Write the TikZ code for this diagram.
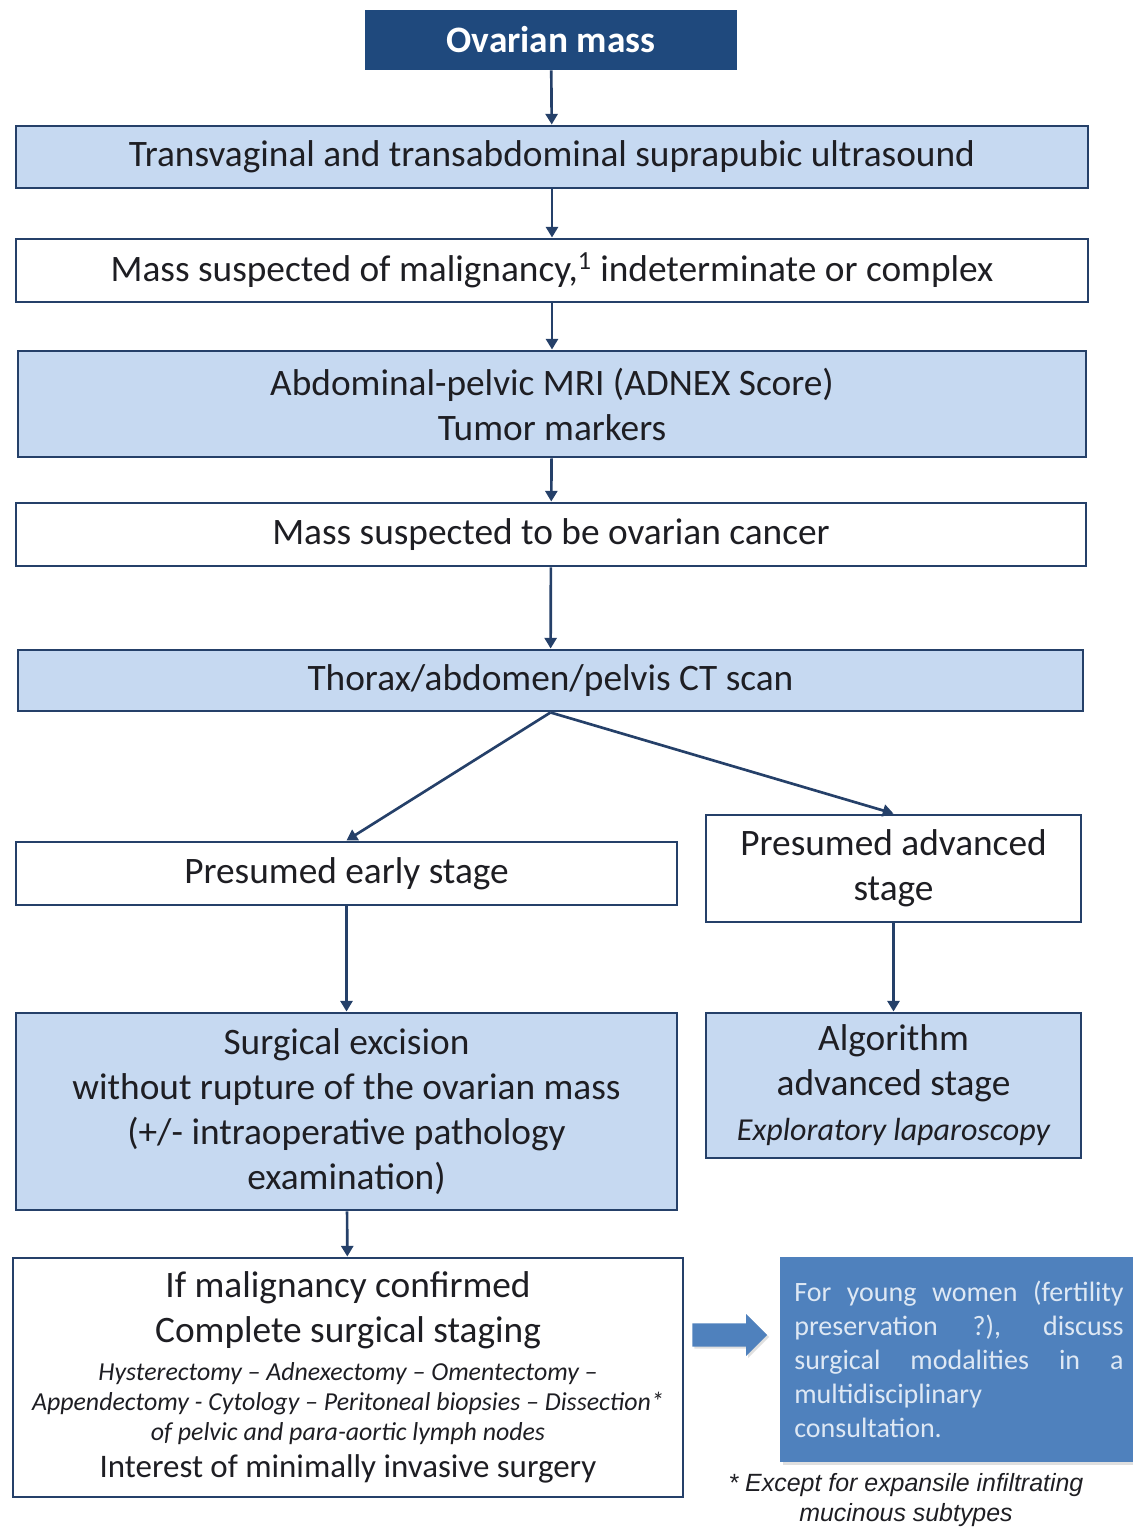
\documentclass[tikz,border=0pt]{standalone}
\usepackage{fontspec}
\setmainfont{Carlito}
\newfontfamily\notefont{Liberation Sans}
\usetikzlibrary{arrows.meta,shapes.arrows,shadows}

\definecolor{navy}{RGB}{37,64,105}
\definecolor{massblue}{RGB}{31,73,125}
\definecolor{paleblue}{RGB}{198,217,241}
\definecolor{midblue}{RGB}{79,129,189}
\definecolor{ink}{RGB}{30,30,35}
\definecolor{paletext}{RGB}{222,232,244}

\newcommand{\bigfont}{\fontsize{28}{33.75}\selectfont}
\newcommand{\smallfont}{\fontsize{19.4}{22.5}\selectfont}

\tikzset{
  box/.style={draw=navy, line width=2.2pt, fill=white, text=ink, align=flush center,
    inner sep=0pt, font=\bigfont},
  filled/.style={box, fill=paleblue},
  link/.style={draw=navy, line width=2pt, -{Triangle[length=8pt,width=9pt]}}
}

\begin{document}
\begin{tikzpicture}[x=0.75pt,y=-0.75pt]
      \useasboundingbox (0,0) rectangle (1132,1528);
      \node[fill=massblue, text=white, font=\bigfont\bfseries,
        minimum width=279pt, minimum height=45pt] (mass) at (551,40) {Ovarian mass};
      \node[filled, minimum width=804pt, minimum height=46.5pt] (echo) at (552,157)
        {Transvaginal and transabdominal suprapubic ultrasound};
      \node[box, minimum width=804pt, minimum height=47.25pt] (suspect) at (552,270.5)
        {Mass suspected of malignancy,\textsuperscript{1} indeterminate or complex};
      \node[filled, minimum width=801pt, minimum height=79.5pt] (mri) at (552,404)
        {Abdominal-pelvic MRI (ADNEX Score)\\ Tumor markers};
      \node[box, minimum width=802.5pt, minimum height=47.25pt] (cancer) at (551,534.5)
        {Mass suspected to be ovarian cancer};
      \node[filled, minimum width=798.75pt, minimum height=45.75pt] (ct) at (550.5,680.5)
        {Thorax/abdomen/pelvis CT scan};
      \node[box, minimum width=495.75pt, minimum height=47.25pt] (early) at (346.5,873.5)
        {Presumed early stage};
      \node[box, minimum width=281.25pt, minimum height=80.25pt] (adv) at (893.5,868.5)
        {Presumed advanced\\ stage};
      \node[filled, minimum width=495.75pt, minimum height=147.75pt] (excision) at (346.5,1111.5)
        {Surgical excision\\ without rupture of the ovarian mass\\ (+/- intraoperative pathology\\ examination)};
      \node[filled, minimum width=281.25pt, minimum height=108.75pt] (algo) at (893.5,1085.5)
        {Algorithm\\ advanced stage\\ {\fontsize{24}{30}\selectfont\itshape Exploratory laparoscopy}};
      \node[box, text width=480pt, minimum width=502.5pt, minimum height=179.25pt] (staging) at (348,1377.5)
        {{\bigfont If malignancy confirmed\\ Complete surgical staging\par}
         \vspace{6pt}
         {\smallfont\itshape Hysterectomy -- Adnexectomy -- Omentectomy --\\
          Appendectomy - Cytology -- Peritoneal biopsies -- Dissection*\\
          of pelvic and para-aortic lymph nodes\par}
         {\fontsize{24.7}{27.5}\selectfont Interest of minimally invasive surgery\par}};
      \node[single arrow, fill=midblue, inner xsep=0pt, inner ysep=8.5pt, minimum height=56pt,
        minimum width=31pt, single arrow head extend=7pt,
        drop shadow={opacity=0.25, shadow xshift=1.5pt, shadow yshift=-1.5pt}] (push) at (724,1335) {};
      \node[fill=midblue, text=paletext, text width=247pt, align=justify, inner xsep=10.5pt,
        minimum height=153.75pt, font=\fontsize{21}{25.5}\selectfont,
        drop shadow={opacity=0.25, shadow xshift=2pt, shadow yshift=-2pt}] (young) at (959,1359.5)
        {For young women (fertility\linebreak preservation ?), discuss\linebreak
         surgical modalities in a\linebreak multidisciplinary\\ consultation.};
      \node[text=ink, align=center, font=\notefont\itshape\fontsize{18.7}{22.5}\selectfont] (note) at (906,1500)
        {* Except for expansile infiltrating\\ mucinous subtypes};
      \begin{scope}[link]
        \draw (mass) -- (echo);
        \draw (echo) -- (suspect);
        \draw (suspect) -- (mri);
        \draw (mri) -- (cancer);
        \draw (cancer) -- (ct);
        \draw (ct.south) -- (early.north);
        \draw (ct.south) -- (adv.north);
        \draw (early) -- (excision);
        \draw (adv) -- (algo);
        \draw (excision) -- (staging);
      \end{scope}
    \end{tikzpicture}
\end{document}
